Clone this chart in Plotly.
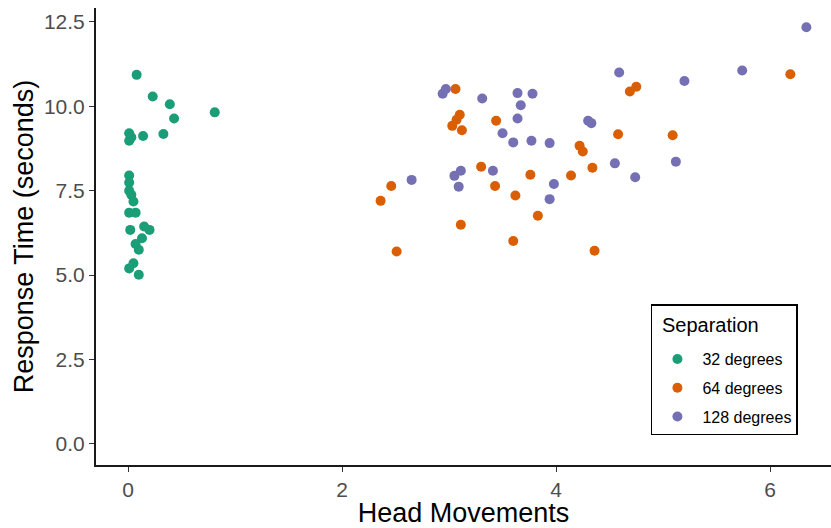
import plotly.graph_objects as go

# Data
sep_labels = ["32 degrees", "64 degrees", "128 degrees"]
colors = ["#1B9E77", "#D95F02", "#7570B3"]
legend_title = "Separation"

hm_32 = [0.08, 0.23, 0.39, 0.81, 0.43, 0.01, 0.03, 0.01, 0.14, 0.33, 0.01, 0.01, 0.01,
         0.03, 0.05, 0.01, 0.07, 0.02, 0.15, 0.20, 0.13, 0.07, 0.10, 0.05, 0.01, 0.10]
rt_32 = [10.93, 10.29, 10.06, 9.82, 9.64, 9.20, 9.08, 8.98, 9.12, 9.18, 7.95, 7.74, 7.50,
         7.38, 7.18, 6.85, 6.85, 6.34, 6.44, 6.34, 6.09, 5.92, 5.75, 5.35, 5.20, 5.01]

hm_64 = [3.06, 3.10, 3.07, 3.03, 3.12, 3.44, 4.22, 4.25, 4.34, 3.30, 3.76, 4.14, 3.43,
         2.46, 2.36, 3.62, 3.83, 3.11, 3.60, 2.51, 4.36, 4.69, 4.75, 6.19, 4.58, 5.09]
rt_64 = [10.51, 9.75, 9.60, 9.42, 9.29, 9.57, 8.83, 8.66, 8.18, 8.21, 7.97, 7.95, 7.64,
         7.64, 7.20, 7.36, 6.76, 6.49, 6.01, 5.70, 5.72, 10.44, 10.58, 10.95, 9.17, 9.14]

hm_128 = [2.94, 2.97, 3.31, 3.64, 3.78, 3.67, 3.64, 3.50, 3.60, 3.77, 3.94, 4.30, 4.33,
          3.41, 3.05, 3.11, 3.09, 2.65, 3.98, 3.94, 6.34, 4.59, 5.20, 5.74, 4.55, 5.12, 4.74]
rt_128 = [10.37, 10.51, 10.23, 10.39, 10.37, 10.03, 9.64, 9.20, 8.93, 8.98, 8.91, 9.57, 9.50,
          8.09, 7.94, 8.09, 7.62, 7.82, 7.70, 7.25, 12.34, 11.00, 10.75, 11.06, 8.31, 8.36, 7.90]

x_ticks = [0, 2, 4, 6]
y_ticks = [0.0, 2.5, 5.0, 7.5, 10.0, 12.5]
y_tick_text = ["0.0", "2.5", "5.0", "7.5", "10.0", "12.5"]

FONT = "Liberation Sans, Arial, sans-serif"

fig = go.Figure()
for name, xs, ys, col in zip(sep_labels, [hm_32, hm_64, hm_128], [rt_32, rt_64, rt_128], colors):
    fig.add_trace(go.Scatter(
        x=xs, y=ys, mode="markers", name=name, legendgroup=name,
        marker=dict(color=col, size=10, line=dict(width=0)),
    ))

axis_common = dict(
    showline=True, linecolor="#1a1a1a", linewidth=2, mirror=False,
    ticks="outside", ticklen=5, tickcolor="#333333", tickwidth=1.3,
    showgrid=False, zeroline=False, automargin=False,
    tickfont=dict(family=FONT, size=21, color="#4D4D4D"),
    title_font=dict(family=FONT, size=27, color="black"),
)

fig.update_layout(
    width=831, height=528,
    margin=dict(l=96, r=0, t=8, b=63),
    paper_bgcolor="white", plot_bgcolor="white",
    font=dict(family=FONT),
    xaxis=dict(range=[-0.30, 6.57], tickvals=x_ticks,
               title=dict(text="Head Movements", standoff=14), **axis_common),
    yaxis=dict(range=[-0.622, 12.91], tickvals=y_ticks, ticktext=y_tick_text,
               title=dict(text="Response Time (seconds)", standoff=2), **axis_common),
    legend=dict(
        x=0.755, y=0.352, xanchor="left", yanchor="top",
        bordercolor="black", borderwidth=1.5, bgcolor="rgba(255,255,255,0)",
        title=dict(text="&nbsp;", font=dict(size=28, color="black")),
        font=dict(size=16, color="black"),
        itemwidth=40,
        traceorder="grouped", tracegroupgap=5,
    ),
    annotations=[dict(
        text=legend_title, xref="paper", yref="paper", x=0.7673, y=0.3063,
        xanchor="left", yanchor="middle", showarrow=False,
        font=dict(family=FONT, size=20, color="black"),
    )],
)

fig.write_html("out.html", config={"displayModeBar": False},
               post_script="document.body.style.margin='0';")
